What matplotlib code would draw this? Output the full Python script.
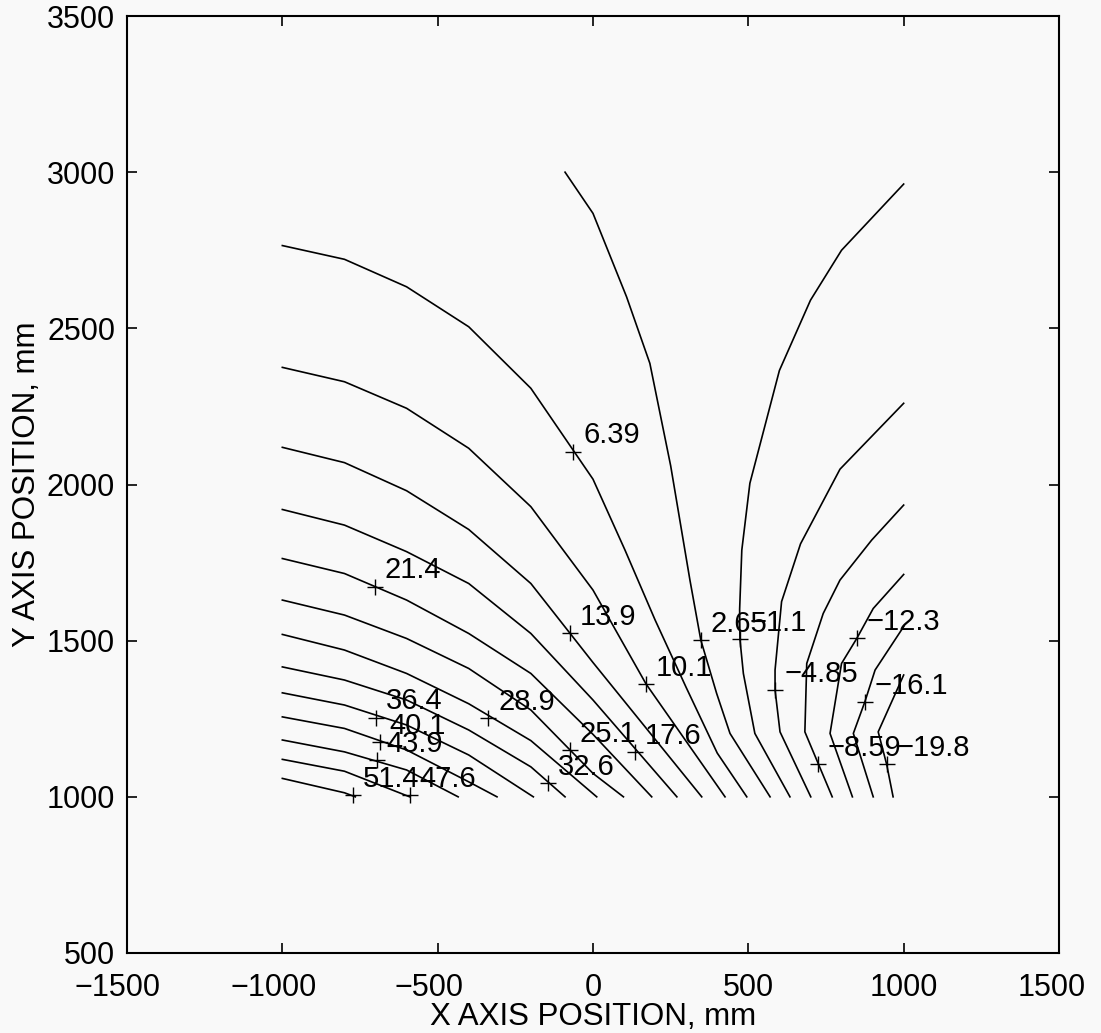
import matplotlib
matplotlib.use('Agg')
from matplotlib import pyplot as plt
from matplotlib.transforms import blended_transform_factory, offset_copy

plt.rcParams['font.family'] = ['Liberation Sans', 'DejaVu Sans']

# contour levels, highest to lowest
levels = [51.4, 47.6, 43.9, 40.1, 36.4, 32.6, 28.9, 25.1, 21.4, 17.6,
          13.9, 10.1, 6.39, 2.65, -1.1, -4.85, -8.59, -12.3, -16.1, -19.8]

# one polyline per level (mm)
x_514 = [-1000, -800, -765]
y_514 = [1059, 1013, 1000]
x_476 = [-1000, -800, -590]
y_476 = [1120, 1082, 1000]
x_439 = [-1000, -800, -600, -434]
y_439 = [1182, 1144, 1086, 1000]
x_401 = [-1000, -800, -600, -400, -309]
y_401 = [1256, 1219, 1150, 1048, 1000]
x_364 = [-1000, -800, -600, -400, -192]
y_364 = [1333, 1294, 1230, 1134, 1000]
x_326 = [-1000, -800, -600, -400, -200, -90]
y_326 = [1416, 1374, 1310, 1214, 1096, 1000]
x_289 = [-1000, -800, -600, -400, -200, 12]
y_289 = [1520, 1470, 1395, 1298, 1180, 1000]
x_251 = [-1000, -800, -600, -400, -200, 0, 98]
y_251 = [1630, 1582, 1507, 1411, 1278, 1075, 1000]
x_214 = [-1000, -800, -600, -400, -200, 0, 189]
y_214 = [1763, 1715, 1630, 1523, 1395, 1200, 1000]
x_176 = [-1000, -800, -600, -400, -200, 0, 270]
y_176 = [1920, 1870, 1785, 1683, 1523, 1310, 1000]
x_139 = [-1000, -800, -600, -400, -200, 0, 350]
y_139 = [2119, 2070, 1980, 1856, 1683, 1430, 1000]
x_101 = [-1000, -800, -600, -400, -200, 0, 171, 425]
y_101 = [2375, 2329, 2244, 2116, 1929, 1662, 1361, 1000]
x_639 = [-1000, -800, -600, -400, -200, 0, 103, 200, 300, 400, 495]
y_639 = [2765, 2721, 2633, 2505, 2308, 2017, 1790, 1566, 1350, 1140, 1000]
x_265 = [-90, 0, 108, 183, 250, 312, 347, 398, 441, 570]
y_265 = [3000, 2868, 2601, 2388, 2060, 1694, 1502, 1331, 1203, 1000]
x_n110 = [1000, 800, 700, 600, 505, 479, 472, 473, 484, 521, 634]
y_n110 = [2962, 2750, 2590, 2365, 2004, 1790, 1600, 1504, 1395, 1203, 1000]
x_n485 = [1000, 795, 668, 607, 586, 586, 602, 701]
y_n485 = [2260, 2049, 1810, 1625, 1406, 1342, 1208, 1000]
x_n859 = [1000, 897, 795, 741, 688, 682, 770]
y_n859 = [1934, 1822, 1694, 1587, 1427, 1208, 1000]
x_n123 = [1000, 902, 849, 800, 763, 835]
y_n123 = [1712, 1603, 1507, 1427, 1203, 1000]
x_n161 = [1000, 908, 875, 838, 902]
y_n161 = [1545, 1406, 1304, 1203, 1000]
x_n198 = [1000, 918, 945, 966]
y_n198 = [1390, 1208, 1105, 1000]

# clabel '+' positions, same order as levels
lab_x = [-771, -589, -696, -686, -698, -144, -337, -74, -702, 135,
         -74, 171, -63, 347, 473, 586, 725, 849, 875, 945]
lab_y = [1006, 1006, 1118, 1176, 1253, 1043, 1251, 1150, 1673, 1144,
         1524, 1361, 2105, 1502, 1504, 1342, 1105, 1507, 1304, 1105]

xticks = [-1500, -1000, -500, 0, 500, 1000, 1500]
yticks = [500, 1000, 1500, 2000, 2500, 3000, 3500]

lines = [(x_514, y_514), (x_476, y_476), (x_439, y_439), (x_401, y_401),
         (x_364, y_364), (x_326, y_326), (x_289, y_289), (x_251, y_251),
         (x_214, y_214), (x_176, y_176), (x_139, y_139), (x_101, y_101),
         (x_639, y_639), (x_265, y_265), (x_n110, y_n110), (x_n485, y_n485),
         (x_n859, y_n859), (x_n123, y_n123), (x_n161, y_n161), (x_n198, y_n198)]

fs = 21        # contour labels
fs_tick = 22
fs_lab = 22.5
bg = '#f9f9f9'

fig = plt.figure(figsize=(11.01, 10.33), dpi=100, facecolor=bg)
ax = fig.add_axes([127/1101, 80/1033, 932/1101, 937/1033], facecolor=bg)

for xs, ys in lines:
    ax.plot(xs, ys, color='k', lw=1.2)

for lx, ly, v in zip(lab_x, lab_y, levels):
    ax.plot(lx, ly, marker='+', ms=12, mew=1.0, color='k')
    txt = ('%.3g' % v).replace('-', '\u2212')
    ax.annotate(txt, (lx, ly), xytext=(7, 6), textcoords='offset points',
                ha='left', va='baseline', fontsize=fs, color='k')

ax.set_xlim(-1500, 1500)
ax.set_ylim(500, 3500)
ax.set_xticks(xticks)
ax.set_yticks(yticks)
ax.set_xticklabels([])
ax.set_yticklabels([str(v) for v in yticks], fontsize=fs_tick)
ax.tick_params(direction='in', top=True, right=True, length=7, width=1.2)
ax.tick_params(axis='y', pad=8.6)
for s in ax.spines.values():
    s.set_linewidth(1.5)

# x tick labels: digits centred on the tick, minus hangs to the left
blend = blended_transform_factory(ax.transData, ax.transAxes)
for v in xticks:
    digits = str(abs(v))
    lab = ('\u2212' if v < 0 else '') + digits
    dx = len(digits) * 0.556 * fs_tick / 2
    if v == xticks[-1]:
        dx -= 5   # last label pulled in a little
    tr = offset_copy(blend, fig=fig, x=dx, y=-14.4, units='points')
    ax.text(v, 0, lab, transform=tr, ha='right', va='top', fontsize=fs_tick)

fig.text(593/1101, 8/1033, 'X AXIS POSITION, mm', ha='center', va='baseline', fontsize=fs_lab)
fig.text(27/1101, 1 - 484/1033, 'Y AXIS POSITION, mm', rotation=90,
         ha='center', va='center', fontsize=fs_lab)

fig.savefig('out.png', dpi=100, facecolor=bg)
